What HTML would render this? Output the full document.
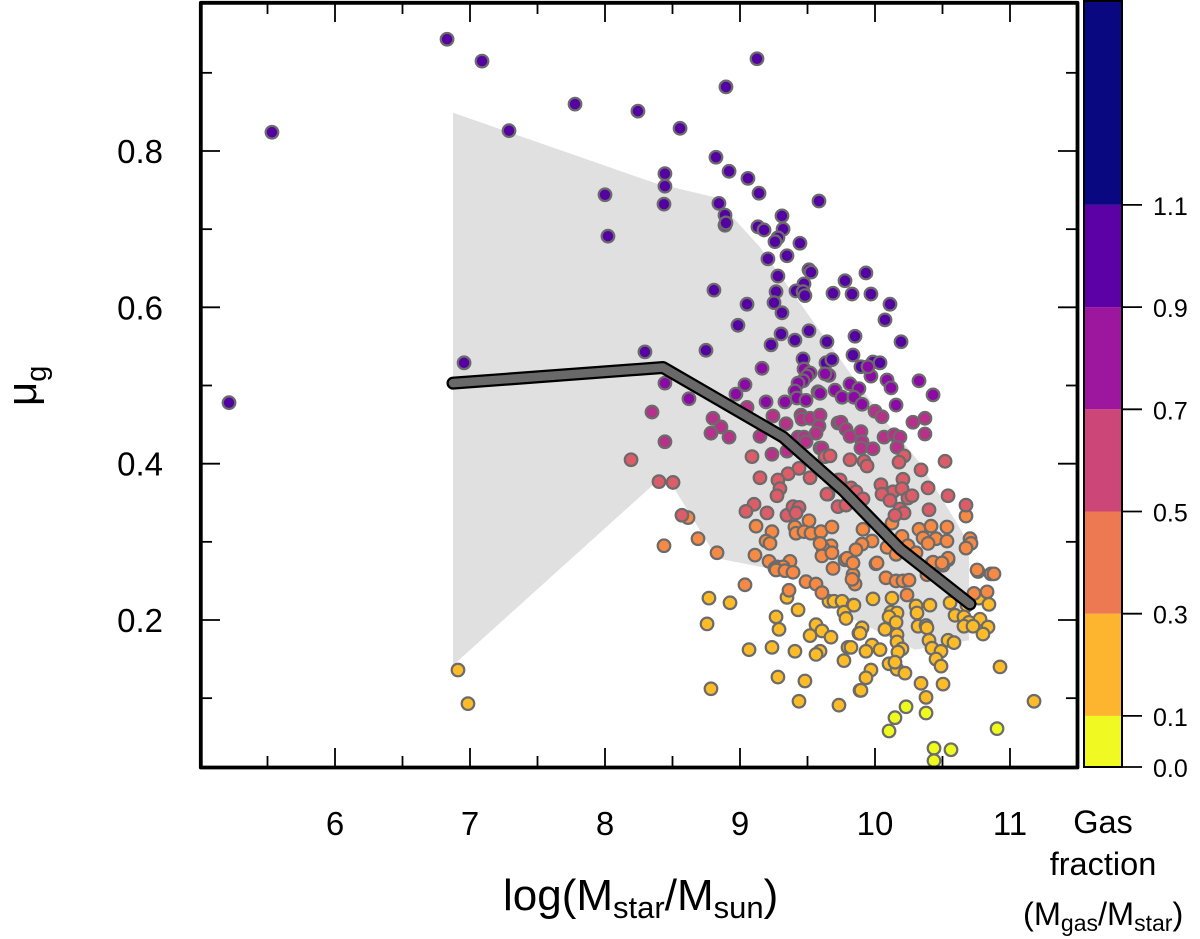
<!DOCTYPE html>
<html lang="en">
<head>
<meta charset="utf-8">
<title>Gas fraction scatter chart</title>
<style>
html,body{margin:0;padding:0;background:#fff;}
svg{display:block;font-family:"Liberation Sans",Arial,sans-serif;}
</style>
</head>
<body>
<svg id="chart" xmlns="http://www.w3.org/2000/svg" width="1200" height="939" viewBox="0 0 1200 939">
  <g id="band-layer"></g>
  <g id="points-layer"></g>
  <g id="line-layer"></g>
  <rect x="200.8" y="2.8" width="876.7" height="764.7" fill="none" stroke="#000" stroke-width="3.8" stroke-linejoin="round"></rect>
  <g id="ticks-layer"></g>
  <g id="colorbar-layer"></g>
  <text x="503" y="910" font-size="44" fill="#000">log(M<tspan dy="8" font-size="31">star</tspan><tspan dy="-8">/M</tspan><tspan dy="8" font-size="31">sun</tspan><tspan dy="-8">)</tspan></text>
  <text transform="translate(36,406) rotate(-90)" font-size="42" fill="#000">μ<tspan dy="10" font-size="29">g</tspan></text>
  <text x="1103" y="833" font-size="32.5" text-anchor="middle" fill="#000">Gas</text>
  <text x="1103" y="875" font-size="32.5" text-anchor="middle" fill="#000">fraction</text>
  <text x="1023" y="925" font-size="32.5" fill="#000">(M<tspan dy="6" font-size="23">gas</tspan><tspan dy="-6">/M</tspan><tspan dy="6" font-size="23">star</tspan><tspan dy="-6">)</tspan></text>
</svg>
<script>
const xMajorTicks = [6, 7, 8, 9, 10, 11];
const xMinorTicks = [5.5, 6.5, 7.5, 8.5, 9.5, 10.5, 11.5];
const yMajorTicks = [0.2, 0.4, 0.6, 0.8];
const yMinorTicks = [0.1, 0.3, 0.5, 0.7, 0.9];

const colorbarBreaks = [0, 0.1, 0.3, 0.5, 0.7, 0.9, 1.1, 1.5];
const colorbarColors = ['#f0f921', '#fdb42f', '#ed7953', '#cc4778', '#9c179e', '#5c01a6', '#0a0880'];
const colorbarTicks = ['0.0', '0.1', '0.3', '0.5', '0.7', '0.9', '1.1'];

const lineMass = [6.874, 8.43, 9.319, 9.763, 10.185, 10.704];
const lineMu = [0.503, 0.523, 0.434, 0.366, 0.291, 0.2205];

const upperMass = [6.874, 8.37, 8.83, 8.948, 9.148, 9.467, 9.815, 10.089, 10.333, 10.652, 10.696];
const upperMu = [0.849, 0.759, 0.74, 0.715, 0.677, 0.6, 0.516, 0.452, 0.401, 0.311, 0.281];
const lowerMass = [6.874, 8.37, 8.496, 8.83, 9.444, 9.815, 10.296, 10.696];
const lowerMu = [0.142, 0.375, 0.373, 0.279, 0.258, 0.203, 0.162, 0.174];

const yellowMass = [10.23,10.148,10.104,10.378,10.904,10.437,10.563,10.437];
const yellowMu = [.089,.075,.058,.081,.061,.036,.034,.02];

const amberMass = [6.911,6.985,8.77,8.926,8.756,8.785,9.067,9.237,9.407,9.593,9.563,9.8,9.77,9.281,9.481,9.437,9.733,9.348,9.43,9.267,9.289,9.563,9.607,9.519,9.674,9.659,9.696,9.756,9.837,9.77,9.785,9.881,9.889,9.985,10.126,9.844,10.304,10.311,10.407,10.556,10.681,10.77,10.844,10.593,10.659,10.696,10.778,10.837,10.8,10.659,10.726,10.119,10.163,10.104,10.156,10.074,10.319,10.378,10.385,9.904,9.889,10.163,10.163,10.4,10.422,10.541,10.585,10.489,10.2,10.17,9.978,9.933,10.037,9.822,10.452,10.489,10.104,10.163,10.148,10.222,9.97,9.933,9.896,10.341,10.504,10.378,10.926,11.178];
const amberMu = [.136,.093,.228,.222,.195,.112,.162,.165,.16,.16,.156,.165,.148,.127,.122,.096,.091,.229,.213,.204,.188,.194,.186,.18,.178,.224,.224,.224,.219,.21,.202,.183,.11,.227,.228,.219,.218,.209,.219,.222,.219,.228,.22,.206,.204,.197,.201,.191,.182,.192,.192,.21,.209,.204,.197,.188,.192,.193,.19,.19,.183,.181,.172,.174,.164,.174,.171,.16,.163,.159,.168,.16,.162,.165,.15,.141,.144,.137,.146,.132,.136,.126,.11,.119,.118,.101,.14,.096];

const orangeMass = [8.615,8.437,8.689,8.83,9.037,9.119,9.237,9.407,9.511,9.415,9.474,9.526,9.6,9.681,9.193,9.222,9.111,9.215,9.37,9.674,9.615,9.607,9.681,9.689,9.274,9.319,9.259,9.363,9.489,9.563,9.607,9.267,9.333,9.393,9.837,9.852,9.83,9.778,10.007,10.081,10.156,10.207,10.252,10.237,10.763,10.859,10.881,10.83,10.733,10.422,10.504,10.541,10.385,10.674,9.911,10.126,10.2,10.326,10.415,10.533,10.356,10.452,10.533,10.393,9.978,9.904,9.859,9.793,10.089,10.244,10.156,10.304,10.704,10.711,10.674,10.015,10.541,10.43,10.496,10.756,9.593,9.837];
const orangeMu = [.331,.295,.304,.286,.245,.32,.313,.319,.327,.311,.313,.311,.313,.319,.301,.298,.283,.275,.275,.295,.292,.282,.286,.266,.268,.268,.266,.238,.249,.246,.235,.264,.263,.261,.258,.246,.252,.277,.272,.254,.25,.25,.251,.232,.262,.259,.259,.236,.234,.273,.27,.277,.258,.333,.316,.324,.307,.316,.32,.319,.305,.304,.301,.298,.301,.297,.29,.279,.293,.295,.284,.286,.304,.298,.292,.273,.279,.274,.273,.264,.298,.273];

const darkMass = [6.83,7.089,5.533,7.289,7.778,8.244,9.126,8.896,8.556,8.444,8.444,8.437,8.822,8.919,9.059,9.141,9.585,8,8.022,8.844,8.889,8.889,8.896,9.311,9.133,9.178,9.319,9.281,9.259,9.444,9.207,9.348,9.511,9.526,9.281,9.778,9.933,9.474,9.267,9.415,9.467,9.481,9.689,9.83,9.97,10.111,9.252,9.052,9.311,10.074,8.807,8.985,9.304,9.511,9.407,9.23,9.644,9.852,10.193,8.748,8.296,9.837,9.467,9.637,9.681,9.896,9.985,10.037,6.956,5.215];
const darkMu = [.943,.915,.824,.826,.86,.851,.918,.882,.829,.771,.755,.732,.792,.774,.765,.746,.736,.744,.691,.733,.718,.705,.708,.717,.703,.699,.7,.689,.684,.682,.662,.666,.648,.645,.64,.634,.644,.63,.62,.621,.62,.615,.618,.617,.617,.604,.606,.604,.593,.584,.622,.577,.566,.57,.558,.552,.556,.563,.556,.545,.543,.539,.534,.529,.533,.524,.53,.529,.529,.478];

const purpleMass = [8.444,8.622,9.037,8.97,9.163,9.193,9.333,9.474,9.519,9.496,9.659,9.63,9.97,9.948,10.089,10.119,9.578,9.467,9.43,9.407,9.422,9.489,9.704,9.756,9.815,9.881,9.844,9.904,10.156,10.326,10.43,9.593];
const purpleMu = [.503,.483,.501,.489,.522,.479,.479,.521,.516,.512,.513,.515,.512,.524,.507,.497,.492,.506,.503,.493,.484,.481,.494,.485,.502,.496,.485,.476,.475,.506,.488,.49];

const magentaMass = [8.348,8.444,8.8,8.859,8.785,8.919,9.052,9.244,9.341,9.148,9.237,9.348,9.452,9.459,9.519,9.593,9.585,9.563,9.43,9.474,9.489,9.593,9.726,9.748,10,10.052,10.281,10.37,10.37,9.785,9.815,9.896,9.904,9.896,9.985,10.067,10.141,10.185,10.163,9.607];
const magentaMu = [.466,.428,.458,.447,.439,.434,.472,.461,.451,.435,.412,.416,.462,.457,.458,.462,.448,.439,.434,.434,.428,.42,.452,.453,.467,.46,.453,.458,.438,.444,.435,.441,.428,.42,.419,.434,.437,.434,.421,.42];

const roseMass = [8.193,8.4,8.504,8.57,9.089,9.63,9.667,9.437,9.356,9.281,9.519,9.148,9.296,9.274,9.652,9.726,9.726,9.104,9.044,9.2,9.348,9.393,9.437,9.415,9.815,9.919,9.941,10.215,10.178,10.519,10.341,10.207,10.044,10.133,10.2,10.052,10.111,10.244,10.274,10.393,10.541,10.4,10.674,10.185,10.215,10.148,9.741,9.822,9.859,9.911,9.644,9.785];
const roseMu = [.405,.377,.376,.334,.409,.409,.41,.394,.387,.379,.382,.382,.368,.359,.361,.379,.345,.348,.339,.337,.334,.345,.344,.337,.405,.403,.397,.41,.402,.403,.392,.38,.373,.364,.368,.361,.353,.356,.359,.369,.359,.341,.347,.342,.337,.334,.379,.369,.364,.355,.361,.347];

const seriesNames = ['yellow', 'amber', 'orange', 'dark-purple', 'purple', 'magenta', 'rose'];
const seriesMass = [yellowMass, amberMass, orangeMass, darkMass, purpleMass, magentaMass, roseMass];
const seriesMu = [yellowMu, amberMu, orangeMu, darkMu, purpleMu, magentaMu, roseMu];
const seriesFill = ['#eef91c', '#fdbb27', '#f68a44', '#5502a3', '#8b0aa5', '#b73089', '#dc5c68'];

const SVG_NS = 'http://www.w3.org/2000/svg';
function xScale(v) { return 335 + (v - 6) * 135; }
function yScale(v) { return 620 - (v - 0.2) * 781.67; }
function cbScale(v) { return 767 - v * 511; }

function make(tag, attrs, parent) {
  const el = document.createElementNS(SVG_NS, tag);
  for (const k in attrs) { el.setAttribute(k, attrs[k]); }
  parent.appendChild(el);
  return el;
}

const bandLayer = document.getElementById('band-layer');
const pointsLayer = document.getElementById('points-layer');
const lineLayer = document.getElementById('line-layer');
const ticksLayer = document.getElementById('ticks-layer');
const colorbarLayer = document.getElementById('colorbar-layer');

const bandPts = [];
upperMass.forEach(function (m, i) { bandPts.push(xScale(m) + ',' + yScale(upperMu[i])); });
for (let i = lowerMass.length - 1; i >= 0; i--) { bandPts.push(xScale(lowerMass[i]) + ',' + yScale(lowerMu[i])); }
const bandPoly = make('polygon', { points: bandPts.join(' '), fill: '#e0e0e0' }, bandLayer);



seriesNames.forEach(function (name, s) {
  seriesMass[s].forEach(function (m, i) {
    const c = make('circle', { cx: xScale(m), cy: yScale(seriesMu[s][i]), r: 6.3, fill: seriesFill[s], stroke: '#6b6b6b', 'stroke-width': 2.2 }, pointsLayer);
    
    
  });
});

const linePts = lineMass.map(function (m, i) { return xScale(m) + ',' + yScale(lineMu[i]); }).join(' ');
const lineOuter = make('polyline', { points: linePts, fill: 'none', stroke: '#000', 'stroke-width': 13, 'stroke-linecap': 'round', 'stroke-linejoin': 'round' }, lineLayer);


const lineInner = make('polyline', { points: linePts, fill: 'none', stroke: '#696969', 'stroke-width': 8.5, 'stroke-linecap': 'round', 'stroke-linejoin': 'round' }, lineLayer);



function xTick(v, len) {
  const bottom = make('line', { x1: xScale(v), x2: xScale(v), y1: 767, y2: 767 - len, stroke: '#000', 'stroke-width': 1.8 }, ticksLayer);
  
  
  const top = make('line', { x1: xScale(v), x2: xScale(v), y1: 3, y2: 3 + len, stroke: '#000', 'stroke-width': 1.8 }, ticksLayer);
  
  
}
function yTick(v, len) {
  const left = make('line', { x1: 201, x2: 201 + len, y1: yScale(v), y2: yScale(v), stroke: '#000', 'stroke-width': 1.8 }, ticksLayer);
  
  
  const right = make('line', { x1: 1077, x2: 1077 - len, y1: yScale(v), y2: yScale(v), stroke: '#000', 'stroke-width': 1.8 }, ticksLayer);
  
  
}
xMajorTicks.forEach(function (v) {
  xTick(v, 19);
  const t = make('text', { x: xScale(v), y: 835, 'font-size': 33, 'text-anchor': 'middle', fill: '#000' }, ticksLayer);
  
  
  t.textContent = String(v);
});
xMinorTicks.forEach(function (v) { xTick(v, 11); });
yMajorTicks.forEach(function (v) {
  yTick(v, 19);
  const t = make('text', { x: 163, y: yScale(v) + 12, 'font-size': 33, 'text-anchor': 'end', fill: '#000' }, ticksLayer);
  
  
  t.textContent = v.toFixed(1);
});
yMinorTicks.forEach(function (v) { yTick(v, 11); });

colorbarColors.forEach(function (col, i) {
  const yTop = cbScale(colorbarBreaks[i + 1]);
  const yBot = cbScale(colorbarBreaks[i]);
  const r = make('rect', { x: 1084, y: yTop, width: 38, height: yBot - yTop, fill: col }, colorbarLayer);
  
  
});
const cbFrame = make('rect', { x: 1084, y: 1, width: 38, height: 766, fill: 'none', stroke: '#000', 'stroke-width': 2 }, colorbarLayer);


colorbarTicks.forEach(function (label) {
  const v = parseFloat(label);
  const tk = make('line', { x1: 1122, x2: 1142, y1: cbScale(v), y2: cbScale(v), stroke: '#000', 'stroke-width': 1.8 }, colorbarLayer);
  
  
  const t = make('text', { x: 1153, y: cbScale(v) + 10, 'font-size': 25, fill: '#000' }, colorbarLayer);
  
  
  t.textContent = label;
});
</script>
</body>
</html>
